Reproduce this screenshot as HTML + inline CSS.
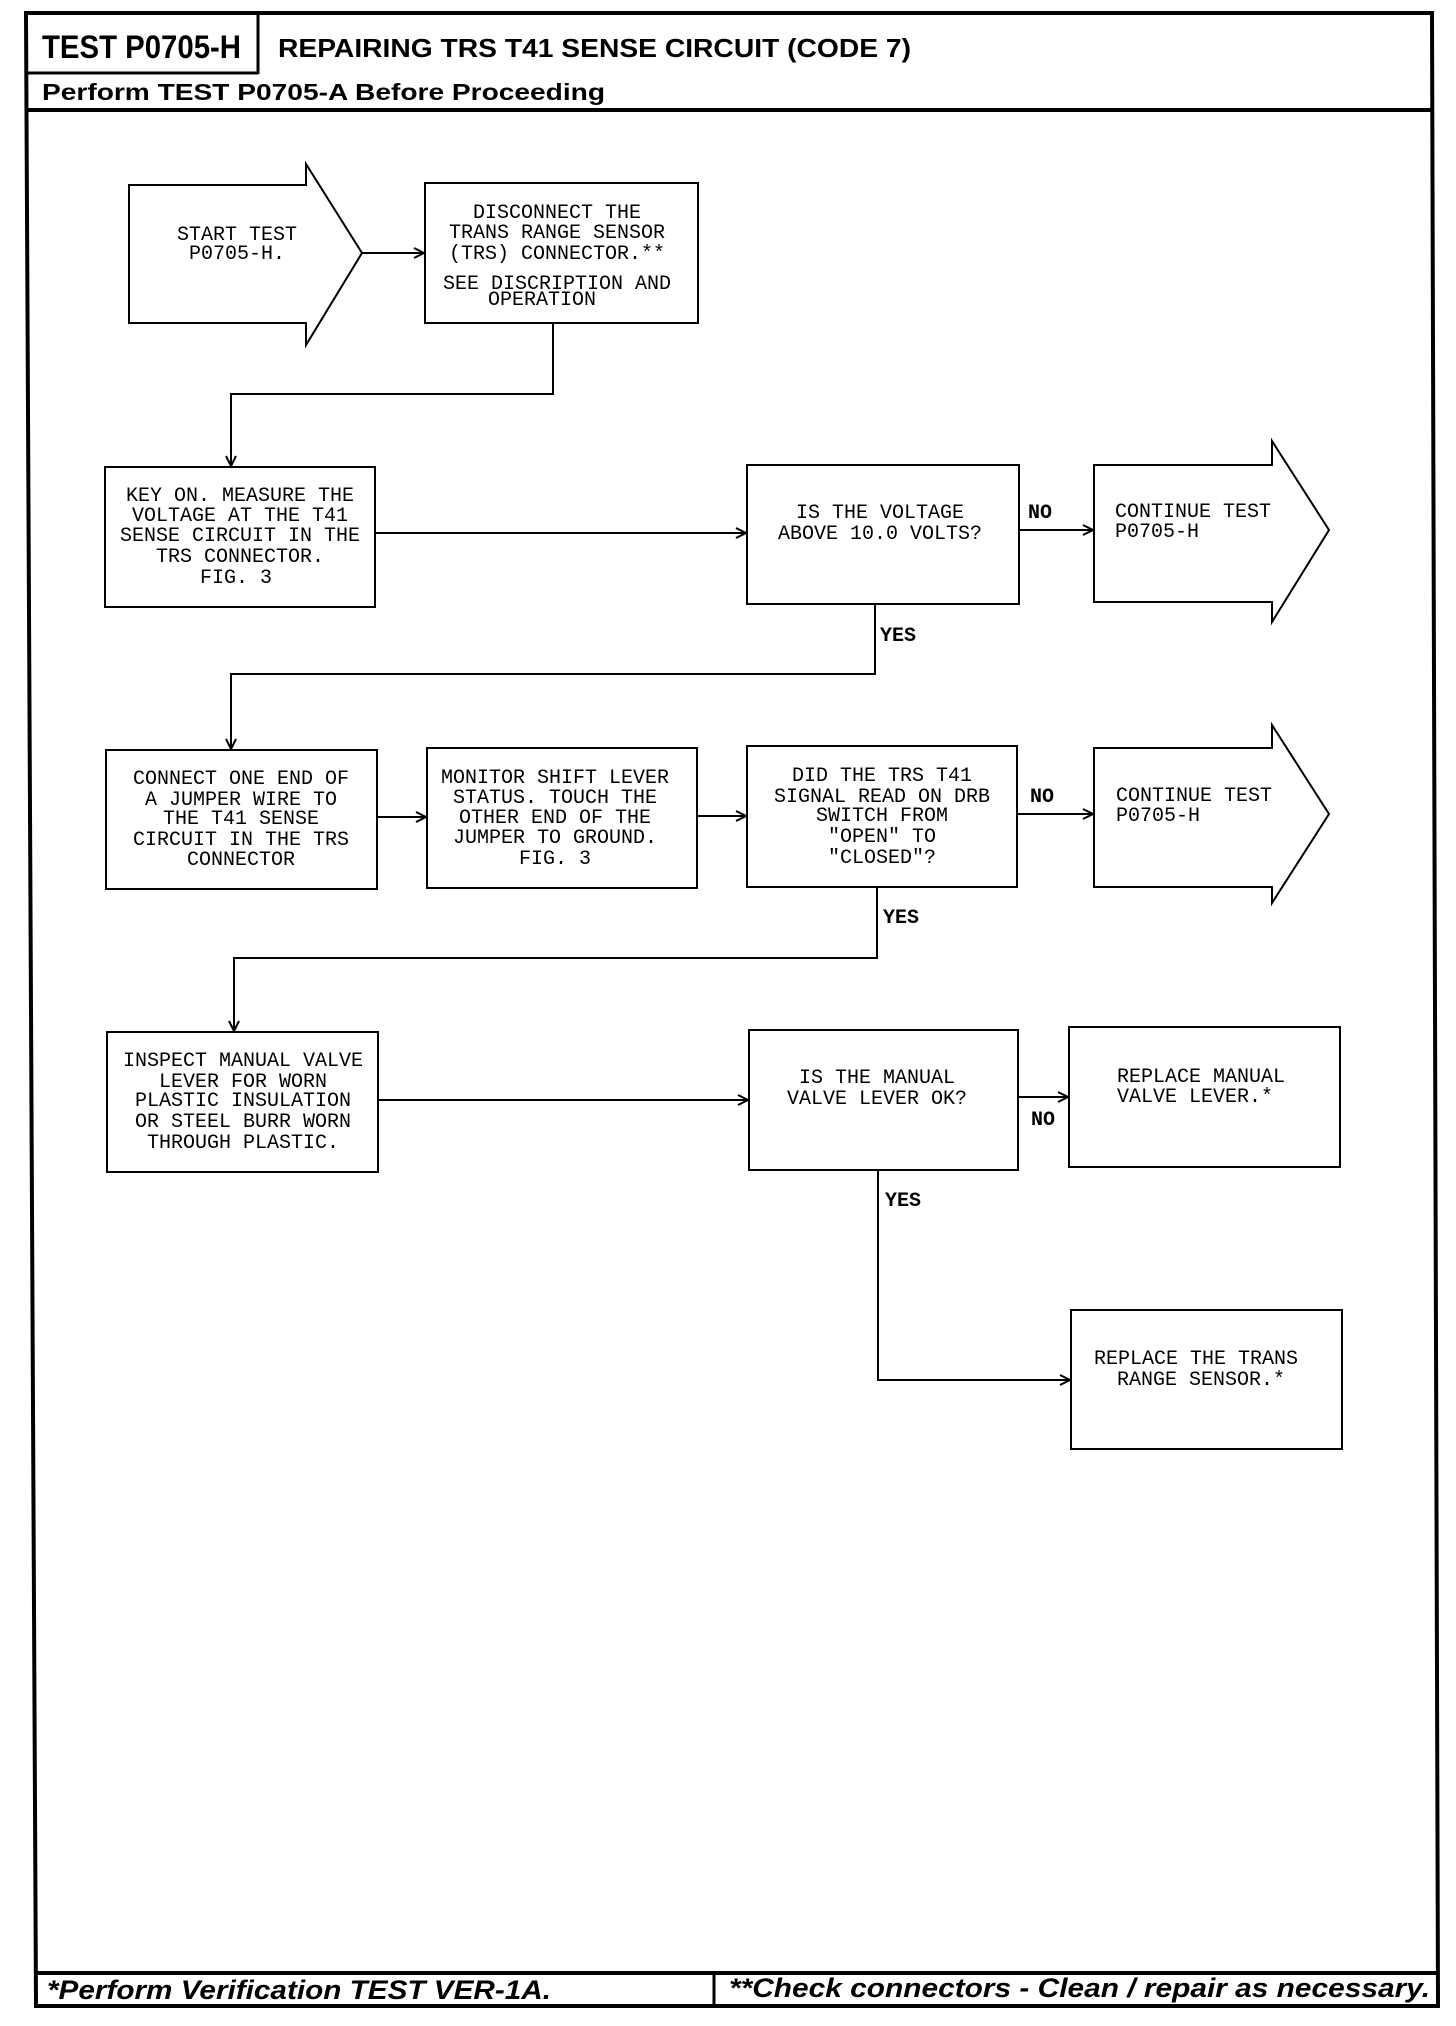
<!DOCTYPE html>
<html><head><meta charset="utf-8"><style>
html,body{margin:0;padding:0;background:#fff}
svg{display:block}
.m{font-family:"Liberation Mono",monospace;font-size:20px;fill:#000}
.h{font-family:"Liberation Sans",sans-serif;font-weight:bold;fill:#000}
</style></head><body>
<svg width="1456" height="2026" viewBox="0 0 1456 2026" xmlns="http://www.w3.org/2000/svg">
<defs><marker id="a" markerWidth="12" markerHeight="12" refX="11" refY="6" orient="auto" markerUnits="userSpaceOnUse"><path d="M1,1 L11,6 L1,11" fill="none" stroke="#000" stroke-width="2"/></marker></defs>
<g fill="none" stroke="#000">
<polygon points="26,13 1432,13 1438,2006 36,2006" stroke-width="4"/>
<line x1="26" y1="110" x2="1433" y2="110" stroke-width="4"/>
<line x1="35" y1="1973" x2="1437" y2="1973" stroke-width="4"/>
<line x1="714" y1="1973" x2="714" y2="2006" stroke-width="3"/>
<line x1="258" y1="13" x2="258" y2="74" stroke-width="3"/>
<line x1="26" y1="73" x2="258" y2="73" stroke-width="3"/>
<g stroke-width="2">
<polygon points="129,185 306,185 306,164 362,253 306,345 306,323 129,323"/>
<rect x="425" y="183" width="273" height="140"/>
<rect x="105" y="467" width="270" height="140"/>
<rect x="747" y="465" width="272" height="139"/>
<polygon points="1094,465 1272,465 1272,441 1329,530 1272,622 1272,602 1094,602"/>
<rect x="106" y="750" width="271" height="139"/>
<rect x="427" y="748" width="270" height="140"/>
<rect x="747" y="746" width="270" height="141"/>
<polygon points="1094,748 1272,748 1272,725 1329,814 1272,903 1272,887 1094,887"/>
<rect x="107" y="1032" width="271" height="140"/>
<rect x="749" y="1030" width="269" height="140"/>
<rect x="1069" y="1027" width="271" height="140"/>
<rect x="1071" y="1310" width="271" height="139"/>
</g>
<g stroke-width="2" marker-end="url(#a)">
<line x1="362" y1="253" x2="424" y2="253"/>
<polyline points="553,323 553,394 231,394 231,466"/>
<line x1="375" y1="533" x2="746" y2="533"/>
<line x1="1019" y1="530" x2="1093" y2="530"/>
<polyline points="875,604 875,674 231,674 231,749"/>
<line x1="377" y1="817" x2="426" y2="817"/>
<line x1="697" y1="816" x2="746" y2="816"/>
<line x1="1017" y1="814" x2="1093" y2="814"/>
<polyline points="877,887 877,958 234,958 234,1031"/>
<line x1="378" y1="1100" x2="748" y2="1100"/>
<line x1="1018" y1="1097" x2="1068" y2="1097"/>
<polyline points="878,1170 878,1380 1070,1380"/>
</g>
</g>
<text class="h" x="42" y="58" font-size="32" textLength="199" lengthAdjust="spacingAndGlyphs">TEST P0705-H</text>
<text class="h" x="278" y="57" font-size="26" textLength="633" lengthAdjust="spacingAndGlyphs">REPAIRING TRS T41 SENSE CIRCUIT (CODE 7)</text>
<text class="h" x="42" y="100" font-size="23" textLength="563" lengthAdjust="spacingAndGlyphs">Perform TEST P0705-A Before Proceeding</text>
<text class="h" x="47" y="1999" font-size="27" font-style="italic" textLength="504" lengthAdjust="spacingAndGlyphs">*Perform Verification TEST VER-1A.</text>
<text class="h" x="729" y="1997" font-size="27" font-style="italic" textLength="701" lengthAdjust="spacingAndGlyphs">**Check connectors - Clean / repair as necessary.</text>
<g class="m" text-anchor="middle">
<text x="237" y="240">START TEST</text><text x="237" y="259">P0705-H.</text>
<text x="557" y="218">DISCONNECT THE</text><text x="557" y="238">TRANS RANGE SENSOR</text><text x="557" y="259">(TRS) CONNECTOR.**</text><text x="557" y="289">SEE DISCRIPTION AND</text><text x="542" y="305">OPERATION</text>
<text x="240" y="501">KEY ON. MEASURE THE</text><text x="240" y="521">VOLTAGE AT THE T41</text><text x="240" y="541">SENSE CIRCUIT IN THE</text><text x="240" y="562">TRS CONNECTOR.</text><text x="236" y="583">FIG. 3</text>
<text x="880" y="518">IS THE VOLTAGE</text><text x="880" y="539">ABOVE 10.0 VOLTS?</text>
<text x="241" y="784">CONNECT ONE END OF</text><text x="241" y="805">A JUMPER WIRE TO</text><text x="241" y="824">THE T41 SENSE</text><text x="241" y="845">CIRCUIT IN THE TRS</text><text x="241" y="865">CONNECTOR</text>
<text x="555" y="783">MONITOR SHIFT LEVER</text><text x="555" y="803">STATUS. TOUCH THE</text><text x="555" y="823">OTHER END OF THE</text><text x="555" y="843">JUMPER TO GROUND.</text><text x="555" y="864">FIG. 3</text>
<text x="882" y="781">DID THE TRS T41</text><text x="882" y="802">SIGNAL READ ON DRB</text><text x="882" y="821">SWITCH FROM</text><text x="882" y="842">"OPEN" TO</text><text x="882" y="863">"CLOSED"?</text>
<text x="243" y="1066">INSPECT MANUAL VALVE</text><text x="243" y="1087">LEVER FOR WORN</text><text x="243" y="1106">PLASTIC INSULATION</text><text x="243" y="1127">OR STEEL BURR WORN</text><text x="243" y="1148">THROUGH PLASTIC.</text>
<text x="877" y="1083">IS THE MANUAL</text><text x="877" y="1104">VALVE LEVER OK?</text>
</g>
<g class="m">
<text x="1115" y="517">CONTINUE TEST</text><text x="1115" y="537">P0705-H</text>
<text x="1116" y="801">CONTINUE TEST</text><text x="1116" y="821">P0705-H</text>
<text x="1117" y="1082">REPLACE MANUAL</text><text x="1117" y="1102">VALVE LEVER.*</text>
<text x="1094" y="1364">REPLACE THE TRANS</text><text x="1117" y="1385">RANGE SENSOR.*</text>
<text x="1028" y="518" font-weight="bold">NO</text>
<text x="880" y="641" font-weight="bold">YES</text>
<text x="1030" y="802" font-weight="bold">NO</text>
<text x="883" y="923" font-weight="bold">YES</text>
<text x="1031" y="1125" font-weight="bold">NO</text>
<text x="885" y="1206" font-weight="bold">YES</text>
</g>
</svg>
</body></html>
